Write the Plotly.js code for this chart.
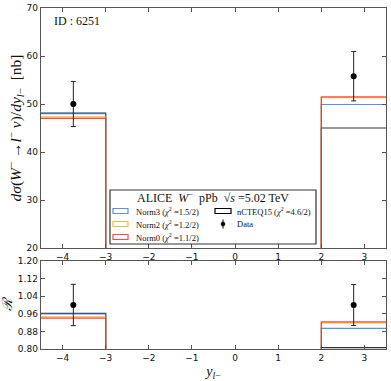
<!DOCTYPE html>
<html>
<head>
<meta charset="utf-8">
<script src="https://cdn.plot.ly/plotly-3.0.1.min.js"></script>
<style>
  html, body { margin: 0; padding: 0; background: #fff; }
  #chart { width: 391px; height: 381px; }
</style>
</head>
<body>
<div id="chart"></div>
<script>
// bins of y_l (edges) and the bins that hold data
const BIN_EDGES = [-4.5, -3, 2, 3.5];
const DATA_X = [-3.75, 2.75];

// d sigma / dy  [nb], one value per bin (middle bin is empty)
const NCTEQ15 = [48.1, 0, 45.0];
const NORM3 = [48.0, 0, 49.9];
const NORM2 = [47.3, 0, 51.3];
const NORM0 = [47.0, 0, 51.5];
const DATA_Y = [50.0, 55.8];
const DATA_ERR = [4.7, 5.15];

// ratio to data
const R_NCTEQ15 = [0.962, 0, 0.806];
const R_NORM3 = [0.960, 0, 0.894];
const R_NORM2 = [0.946, 0, 0.919];
const R_NORM0 = [0.940, 0, 0.923];
const R_DATA = [1.0, 1.0];
const R_ERR = [0.094, 0.093];

const SERIES = [
  { name: 'nCTEQ15', chi2: '4.6/2', color: 'rgba(0,0,0,0.8)', top: NCTEQ15, ratio: R_NCTEQ15 },
  { name: 'Norm3', chi2: '1.5/2', color: 'rgba(50,115,215,0.8)', top: NORM3, ratio: R_NORM3 },
  { name: 'Norm2', chi2: '1.2/2', color: 'rgba(255,165,0,0.8)', top: NORM2, ratio: R_NORM2 },
  { name: 'Norm0', chi2: '1.1/2', color: 'rgba(255,30,20,0.8)', top: NORM0, ratio: R_NORM0 },
];

const W = 391, H = 381;
const M = { l: 41, r: 5, t: 8, b: 32 };
const px = x => (x - M.l) / (W - M.l - M.r);
const py = y => (H - M.b - y) / (H - M.t - M.b);

const SERIF = 'Liberation Serif, DejaVu Serif, serif';
const SANS = 'DejaVu Sans, sans-serif';

// step outline: horizontal over each bin, then drop to the next
function stepY(vals) {
  return vals.concat([vals[vals.length - 1]]);
}

const traces = [];
SERIES.forEach(s => {
  traces.push({
    x: BIN_EDGES, y: stepY(s.top), xaxis: 'x', yaxis: 'y',
    mode: 'lines', line: { shape: 'hv', color: s.color, width: 1.2 },
    showlegend: false, hoverinfo: 'skip',
  });
  traces.push({
    x: BIN_EDGES, y: stepY(s.ratio), xaxis: 'x2', yaxis: 'y2',
    mode: 'lines', line: { shape: 'hv', color: s.color, width: 1.2 },
    showlegend: false, hoverinfo: 'skip',
  });
});

traces.push({
  x: DATA_X, y: DATA_Y, xaxis: 'x', yaxis: 'y', mode: 'markers',
  marker: { color: '#000', size: 6 },
  error_y: { type: 'data', array: DATA_ERR, color: '#222', thickness: 1, width: 2.5 },
  showlegend: false,
});
traces.push({
  x: DATA_X, y: R_DATA, xaxis: 'x2', yaxis: 'y2', mode: 'markers',
  marker: { color: '#000', size: 6 },
  error_y: { type: 'data', array: R_ERR, color: '#222', thickness: 1, width: 2.5 },
  showlegend: false,
});

const axisBase = {
  showline: true, linecolor: '#555', linewidth: 1.3, mirror: 'allticks',
  ticks: 'inside', ticklen: 4, tickwidth: 1, tickcolor: '#555',
  showgrid: false, zeroline: false,
  tickfont: { family: SANS, size: 9, color: '#111' },
};

// hand-made legend box (two columns with a title)
const shapes = [
  { type: 'rect', xref: 'paper', yref: 'paper', x0: px(110), x1: px(316), y0: py(244), y1: py(190),
    line: { color: '#333', width: 1.2 }, fillcolor: 'rgba(255,255,255,0.9)', layer: 'above' },
];
const annotations = [
  { xref: 'paper', yref: 'paper', x: px(52), y: py(21), xanchor: 'left', yanchor: 'middle',
    text: 'ID : 6251', showarrow: false, font: { family: SERIF, size: 12, color: '#111' } },
  { xref: 'paper', yref: 'paper', x: px(213), y: py(198), xanchor: 'center', yanchor: 'middle',
    text: 'ALICE  <i>W</i><sup>−</sup>  pPb  √<i>s</i> =5.02 TeV', showarrow: false,
    font: { family: SERIF, size: 12, color: '#111' } },
];

const rows = [211, 224, 237];
['Norm3', 'Norm2', 'Norm0'].forEach((n, i) => {
  const s = SERIES.find(d => d.name === n);
  shapes.push({ type: 'rect', xref: 'paper', yref: 'paper', x0: px(113), x1: px(128),
    y0: py(rows[i] + 2.5), y1: py(rows[i] - 2.5), line: { color: s.color, width: 1.2 }, layer: 'above' });
  annotations.push({ xref: 'paper', yref: 'paper', x: px(134), y: py(rows[i]), xanchor: 'left', yanchor: 'middle',
    text: s.name + ' (<i>χ</i><sup>2</sup> =' + s.chi2 + ')', showarrow: false,
    font: { family: SERIF, size: 8.5, color: '#111' } });
});
shapes.push({ type: 'rect', xref: 'paper', yref: 'paper', x0: px(215), x1: px(231),
  y0: py(rows[0] + 2.5), y1: py(rows[0] - 2.5), line: { color: '#000', width: 1.2 }, layer: 'above' });
annotations.push({ xref: 'paper', yref: 'paper', x: px(235), y: py(rows[0]), xanchor: 'left', yanchor: 'middle',
  text: 'nCTEQ15 (<i>χ</i><sup>2</sup> =' + SERIES[0].chi2 + ')', showarrow: false,
  font: { family: SERIF, size: 8.5, color: '#111' } });
shapes.push({ type: 'line', xref: 'paper', yref: 'paper', x0: px(223), x1: px(223),
  y0: py(rows[1] - 4.5), y1: py(rows[1] + 4.5), line: { color: '#000', width: 1 }, layer: 'above' });
shapes.push({ type: 'circle', xref: 'paper', yref: 'paper', x0: px(221), x1: px(225),
  y0: py(rows[1] - 2), y1: py(rows[1] + 2), line: { color: '#000', width: 0.5 }, fillcolor: '#000', layer: 'above' });
annotations.push({ xref: 'paper', yref: 'paper', x: px(235), y: py(rows[1]), xanchor: 'left', yanchor: 'middle',
  text: 'Data', showarrow: false, font: { family: SERIF, size: 8.5, color: '#111' } });

const layout = {
  width: W, height: H,
  margin: M,
  paper_bgcolor: '#fff', plot_bgcolor: '#fff',
  showlegend: false,
  xaxis: Object.assign({}, axisBase, {
    domain: [0, 1], anchor: 'y', range: [-4.5, 3.5], dtick: 1, tick0: 0,
  }),
  yaxis: Object.assign({}, axisBase, {
    domain: [py(248), 1], anchor: 'x', range: [20, 70], dtick: 10,
    title: { text: '<i>dσ</i>(<i>W</i><sup>−</sup> →<i>l</i><sup>−</sup> <i>ν</i>)/<i>dy</i><sub><i>l</i>−</sub>  [nb]',
      font: { family: SERIF, size: 15.5, color: '#111' }, standoff: 0 },
  }),
  xaxis2: Object.assign({}, axisBase, {
    domain: [0, 1], anchor: 'y2', range: [-4.5, 3.5], dtick: 1, tick0: 0,
    title: { text: '<i>y</i><sub><i>l</i>−</sub>', font: { family: SERIF, size: 14, color: '#111' }, standoff: 4 },
  }),
  yaxis2: Object.assign({}, axisBase, {
    domain: [0, py(261)], anchor: 'x2', range: [0.8, 1.2], tickvals: [0.8, 0.88, 0.96, 1.04, 1.12, 1.2],
    tickformat: '.2f',
    title: { text: '<i>ℛ</i>', font: { family: SERIF, size: 14, color: '#111' }, standoff: 2 },
  }),
  shapes: shapes,
  annotations: annotations,
};

Plotly.newPlot('chart', traces, layout, { displayModeBar: false, staticPlot: true });
</script>
</body>
</html>
